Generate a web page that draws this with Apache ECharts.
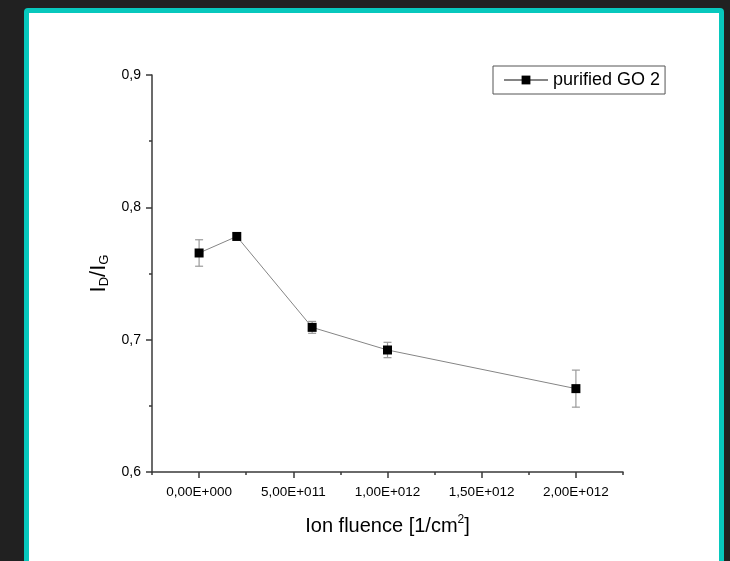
<!DOCTYPE html>
<html>
<head>
<meta charset="utf-8">
<script src="https://cdn.jsdelivr.net/npm/echarts@6/dist/echarts.min.js"></script>
<style>
  html, body { margin: 0; padding: 0; background: #212121; overflow: hidden; }
  #frame {
    position: absolute; left: 24px; top: 8px;
    width: 690px; height: 600px;
    border: 5px solid #07c8bd; border-radius: 4px;
    background: #ffffff;
  }
  #chart { position: absolute; left: 0; top: 0; width: 730px; height: 561px; }
</style>
</head>
<body>
<div id="frame"></div>
<div id="chart"></div>
<script>
// data
const fluence = [0, 2e11, 6e11, 1e12, 2e12];
const ratio = [0.7655, 0.7780, 0.7093, 0.6922, 0.6630];
const ratioErr = [0.0100, 0.0025, 0.0045, 0.0058, 0.0140];

const xTickValues = [0, 5e11, 1e12, 1.5e12, 2e12];
const xTickLabels = ['0,00E+000', '5,00E+011', '1,00E+012', '1,50E+012', '2,00E+012'];
const xMinorTicks = [-2.5e11, 2.5e11, 7.5e11, 1.25e12, 1.75e12, 2.25e12];

const seriesName = 'purified GO 2';
const font = 'Liberation Sans, Arial, sans-serif';

const chart = echarts.init(document.getElementById('chart'));

const points = fluence.map((x, i) => [x, ratio[i]]);
const errors = fluence.map((x, i) => [x, ratio[i] - ratioErr[i], ratio[i] + ratioErr[i]]);

const axisColor = '#3a3a3a';

chart.setOption({
    backgroundColor: 'transparent',
    animation: false,
    textStyle: { fontFamily: font },
    legend: {
        data: [seriesName],
        left: 493,
        top: 66,
        padding: [5, 5, 5, 10],
        borderColor: '#555',
        borderWidth: 1,
        itemWidth: 44,
        itemHeight: 11,
        textStyle: { color: '#000', fontSize: 18, fontFamily: font }
    },
    grid: { left: 152, right: 107, top: 75, bottom: 89 },
    xAxis: [
        {
            type: 'value',
            min: -2.5e11,
            max: 2.25e12,
            interval: 2.5e11,
            axisLine: { onZero: false, lineStyle: { color: axisColor, width: 1.5 } },
            splitLine: { show: false },
            axisTick: {
                customValues: xTickValues,
                length: 6,
                lineStyle: { color: axisColor, width: 1.5 }
            },
            axisLabel: {
                customValues: xTickValues,
                color: '#000',
                fontSize: 13.5,
                margin: 13,
                formatter: (v) => {
                    const i = xTickValues.findIndex(t => Math.abs(t - v) < 1e6);
                    return i >= 0 ? xTickLabels[i] : '';
                }
            },
            name: '{a|Ion fluence [1/cm}{s|2}{a|]}',
            nameLocation: 'middle',
            nameGap: 42,
            nameTextStyle: {
                rich: {
                    a: { fontSize: 20, color: '#000', fontFamily: font },
                    s: { fontSize: 12, color: '#000', fontFamily: font, verticalAlign: 'top', padding: [0, 0, 12, 0] }
                }
            }
        },
        {
            type: 'value',
            min: -2.5e11,
            max: 2.25e12,
            interval: 2.5e11,
            position: 'bottom',
            axisLine: { show: false, onZero: false },
            splitLine: { show: false },
            axisLabel: { show: false },
            axisTick: {
                customValues: xMinorTicks,
                length: 3,
                lineStyle: { color: axisColor, width: 1.5 }
            }
        }
    ],
    yAxis: {
        type: 'value',
        min: 0.6,
        max: 0.9,
        interval: 0.1,
        axisLine: { show: true, onZero: false, lineStyle: { color: axisColor, width: 1.5 } },
        splitLine: { show: false },
        axisTick: { show: true, length: 6, lineStyle: { color: axisColor, width: 1.5 } },
        minorTick: { show: true, splitNumber: 2, length: 3, lineStyle: { color: axisColor, width: 1.5 } },
        axisLabel: {
            color: '#000',
            fontSize: 14,
            margin: 11,
            formatter: (v) => v.toFixed(1).replace('.', ',')
        },
        name: '{a|I}{s|D}{a|/I}{s|G}',
        nameLocation: 'middle',
        nameRotate: 90,
        nameGap: 40,
        nameTextStyle: {
            rich: {
                a: { fontSize: 22, color: '#000', fontFamily: font },
                s: { fontSize: 13, color: '#000', fontFamily: font, verticalAlign: 'bottom', padding: [10, 0, 0, 0] }
            }
        }
    },
    series: [
        {
            name: 'err',
            type: 'custom',
            xAxisIndex: 0,
            z: 1,
            data: errors,
            renderItem: (params, api) => {
                const top = api.coord([api.value(0), api.value(2)]);
                const bot = api.coord([api.value(0), api.value(1)]);
                const w = 4;
                const style = { stroke: '#9a9a9a', lineWidth: 1.2 };
                return {
                    type: 'group',
                    children: [
                        { type: 'line', shape: { x1: top[0], y1: top[1], x2: bot[0], y2: bot[1] }, style: style },
                        { type: 'line', shape: { x1: top[0] - w, y1: top[1], x2: top[0] + w, y2: top[1] }, style: style },
                        { type: 'line', shape: { x1: bot[0] - w, y1: bot[1], x2: bot[0] + w, y2: bot[1] }, style: style }
                    ]
                };
            }
        },
        {
            name: seriesName,
            type: 'line',
            xAxisIndex: 0,
            z: 3,
            data: points,
            symbol: 'rect',
            symbolSize: 9,
            itemStyle: { color: '#000' },
            lineStyle: { color: '#858585', width: 1 }
        }
    ]
});
</script>
</body>
</html>
